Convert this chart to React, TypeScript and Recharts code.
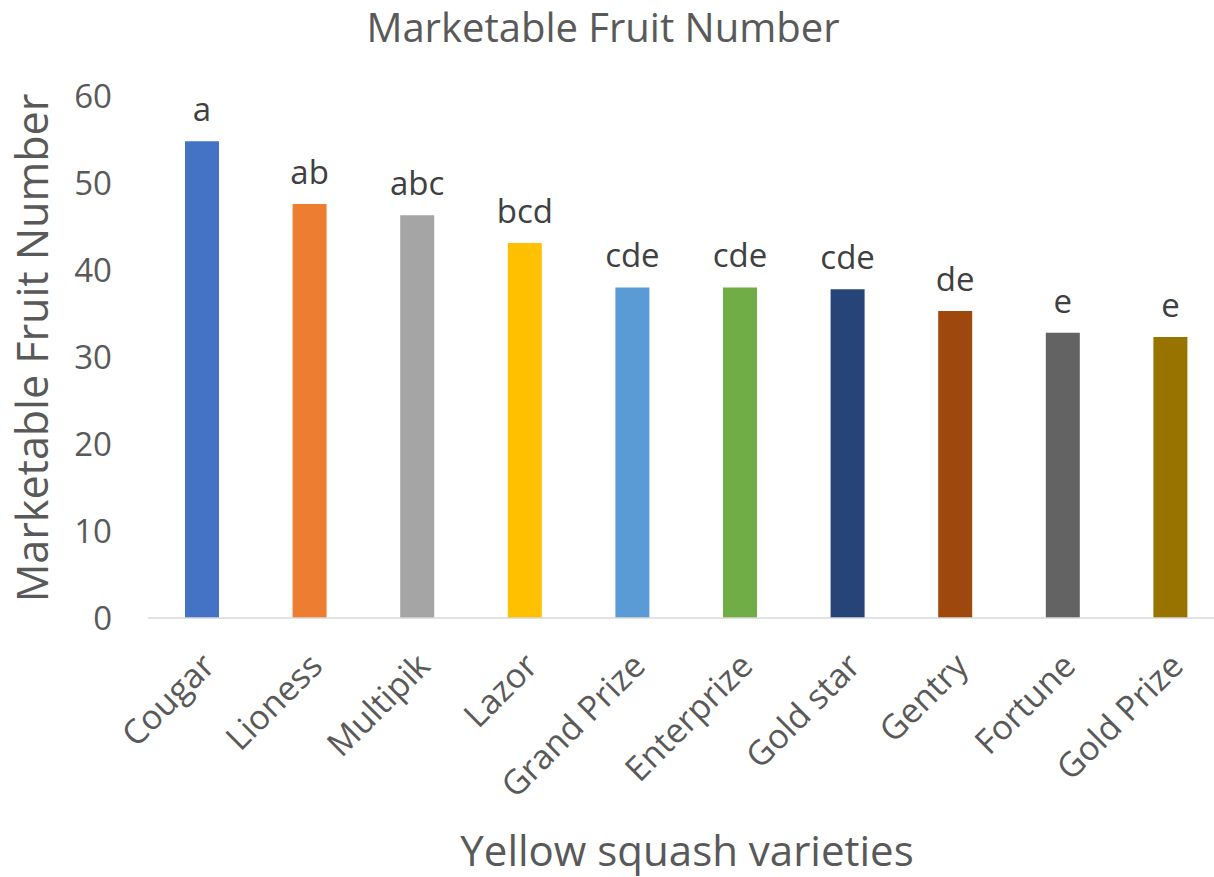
import React from 'react';
import { BarChart, Bar, XAxis, YAxis, Cell, LabelList, Label } from 'recharts';

const varieties = ['Cougar', 'Lioness', 'Multipik', 'Lazor', 'Grand Prize', 'Enterprize', 'Gold star', 'Gentry', 'Fortune', 'Gold Prize'];
const fruitNumber = [54.8, 47.6, 46.3, 43.1, 38.0, 38.0, 37.8, 35.3, 32.8, 32.3];
const groupLetters = ['a', 'ab', 'abc', 'bcd', 'cde', 'cde', 'cde', 'de', 'e', 'e'];
const barColors = ['#4472C4', '#ED7D31', '#A5A5A5', '#FFC000', '#5B9BD5', '#70AD47', '#264478', '#9E480E', '#636363', '#997300'];
const yTicks = [0, 10, 20, 30, 40, 50, 60];

const chartTitle = 'Marketable Fruit Number';
const xTitle = 'Yellow squash varieties';
const yTitle = 'Marketable Fruit Number';

const data = varieties.map((name, i) => ({ name, value: fruitNumber[i], letter: groupLetters[i] }));

const FONT = '"Open Sans", sans-serif';
const AXIS_COLOR = '#595959';

const XTick = (props: any) => {
  const { x, y, payload } = props;
  return (
    <g transform={`translate(${x + 15},${y + 50}) rotate(-45)`}>
      <text x={0} y={0} textAnchor="end" fill={AXIS_COLOR} fontSize={34} fontFamily={FONT}>
        {payload.value}
      </text>
    </g>
  );
};

export default function App() {
  return (
    <div style={{ position: 'absolute', left: 0, top: 0, width: 1214, height: 877, overflow: 'hidden', background: '#fff' }}>
      <svg width={1214} height={60} style={{ position: 'absolute', left: 0, top: 0 }}>
        <text x={603} y={42} textAnchor="middle" fill={AXIS_COLOR} fontSize={40} fontFamily={FONT}>
          {chartTitle}
        </text>
      </svg>
      <div style={{ position: 'absolute', left: 0, top: 0 }}>
        <BarChart width={1224} height={877} data={data} margin={{ top: 96, right: 0, bottom: 0, left: 0 }} barCategoryGap={0}>
          <YAxis
            type="number"
            domain={[0, 60]}
            ticks={yTicks}
            width={148}
            axisLine={false}
            tickLine={false}
            tickSize={0}
            tickMargin={36}
            tick={{ fill: AXIS_COLOR, fontSize: 33, fontFamily: FONT }}
          >
            <Label
              content={(p: any) => {
                const vb = p.viewBox;
                const cx = 48;
                const cy = vb.y + vb.height / 2 - 9;
                return (
                  <text transform={`translate(${cx},${cy}) rotate(-90)`} x={0} y={0} textAnchor="middle" fill={AXIS_COLOR} fontSize={43} fontFamily={FONT}>
                    {yTitle}
                  </text>
                );
              }}
            />
          </YAxis>
          <XAxis
            dataKey="name"
            height={259}
            interval={0}
            tickLine={false}
            tickSize={0}
            tickMargin={0}
            axisLine={{ stroke: '#d9d9d9', strokeWidth: 1.5 }}
            tick={<XTick />}
          >
            <Label
              content={(p: any) => {
                return (
                  <text x={687} y={866} textAnchor="middle" fill={AXIS_COLOR} fontSize={42} fontFamily={FONT}>
                    {xTitle}
                  </text>
                );
              }}
            />
          </XAxis>
          <Bar dataKey="value" barSize={34} isAnimationActive={false}>
            {data.map((d, i) => (
              <Cell key={d.name} fill={barColors[i]} />
            ))}
            <LabelList dataKey="letter" position="top" offset={20} fill="#404040" fontSize={33} fontFamily={FONT} />
          </Bar>
        </BarChart>
      </div>
    </div>
  );
}
